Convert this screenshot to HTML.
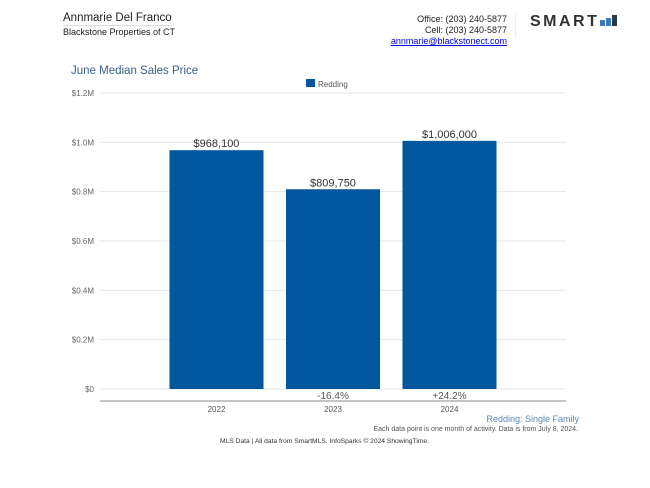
<!DOCTYPE html>
<html><head><meta charset="utf-8"><style>
body{margin:0;width:650px;height:488px;background:#fff;font-family:"Liberation Sans",sans-serif;overflow:hidden;position:relative}
.a{position:absolute;white-space:nowrap}
</style></head><body>
<div class="a" style="left:63px;top:12px;font-size:11.5px;color:#222;border-bottom:1px solid #ddd;padding-bottom:1px">Annmarie Del Franco</div>
<div class="a" style="left:63px;top:27px;font-size:9px;color:#222">Blackstone Properties of CT</div>
<div class="a" style="right:143px;top:14px;font-size:9px;color:#222;text-align:right">Office: (203) 240-5877</div>
<div class="a" style="right:143px;top:25px;font-size:9px;color:#222">Cell: (203) 240-5877</div>
<a class="a" style="right:143px;top:36px;font-size:9px;color:#00e;text-decoration:underline">annmarie@blackstonect.com</a>
<div class="a" style="left:515px;top:13px;width:1px;height:24px;background:#eee"></div>
<div class="a" style="left:530px;top:13px;font-size:16px;letter-spacing:2.5px;color:#333;font-weight:bold">SMART<span style="display:inline-block;width:5px;height:6px;background:#3a7bbf;margin-left:1px;letter-spacing:0"></span><span style="display:inline-block;width:5px;height:8px;background:#3a7bbf;margin-left:1px;letter-spacing:0"></span><span style="display:inline-block;width:5px;height:11px;background:#2a3a4a;margin-left:1px"></span></div>
<div class="a" style="left:71px;top:65px;font-size:11.5px;color:#3b6189">June Median Sales Price</div>
<svg id="c" width="650" height="488" style="position:absolute;left:0;top:0"></svg>
<div class="a" style="right:71px;top:414px;font-size:9px;color:#5a85b5">Redding: Single Family</div>
<div class="a" style="right:72px;top:426px;font-size:7px;color:#555">Each data point is one month of activity. Data is from July 8, 2024.</div>
<div class="a" style="left:220px;top:438px;font-size:6.7px;color:#333">MLS Data | All data from SmartMLS. InfoSparks © 2024 ShowingTime.</div>
<script>
const categories=["2022","2023","2024"];
const values=[968100,809750,1006000];
const valueLabels=["$968,100","$809,750","$1,006,000"];
const changeLabels=["","-16.4%","+24.2%"];
const ticks=[0,200000,400000,600000,800000,1000000,1200000];
const tickLabels=["$0","$0.2M","$0.4M","$0.6M","$0.8M","$1.0M","$1.2M"];
const NS="http://www.w3.org/2000/svg",s=document.getElementById('c');
const y=v=>389-v/1200000*296, x=i=>100+116.5*(i+1);
function mk(t,a,txt){const e=document.createElementNS(NS,t);for(const k in a)e.setAttribute(k,a[k]);if(txt!=null)e.textContent=txt;s.appendChild(e);return e;}
ticks.forEach((t,i)=>{
 const l=mk('line',{x1:100,x2:566,y1:y(t),y2:y(t),stroke:'#e6e6e6','stroke-width':1});
 
 
 const tx=mk('text',{x:94,y:y(t)+3,'text-anchor':'end','font-size':8,fill:'#666','font-family':'Liberation Sans'},tickLabels[i]);
 
 
});
const ax=mk('line',{x1:100,x2:566,y1:401,y2:401,stroke:'#888','stroke-width':1});


const lg=mk('rect',{x:306,y:79,width:9,height:8,fill:'#00579e'});


const lt=mk('text',{x:318,y:87,'font-size':8,fill:'#555','font-family':'Liberation Sans'},'Redding');


categories.forEach((c,i)=>{
 const cx=x(i);
 const r=mk('rect',{x:cx-47,y:y(values[i]),width:94,height:389-y(values[i]),fill:'#00579e'});
 
 
 const v=mk('text',{x:cx,y:y(values[i])-3,'text-anchor':'middle','font-size':11,fill:'#333','font-family':'Liberation Sans'},valueLabels[i]);
 
 
 const p=mk('text',{x:cx,y:399,'text-anchor':'middle','font-size':10,fill:'#555','font-family':'Liberation Sans'},changeLabels[i]);
 
 
 const xl=mk('text',{x:cx,y:412,'text-anchor':'middle','font-size':8,fill:'#555','font-family':'Liberation Sans'},c);
 
 
});
</script>
</body></html>
